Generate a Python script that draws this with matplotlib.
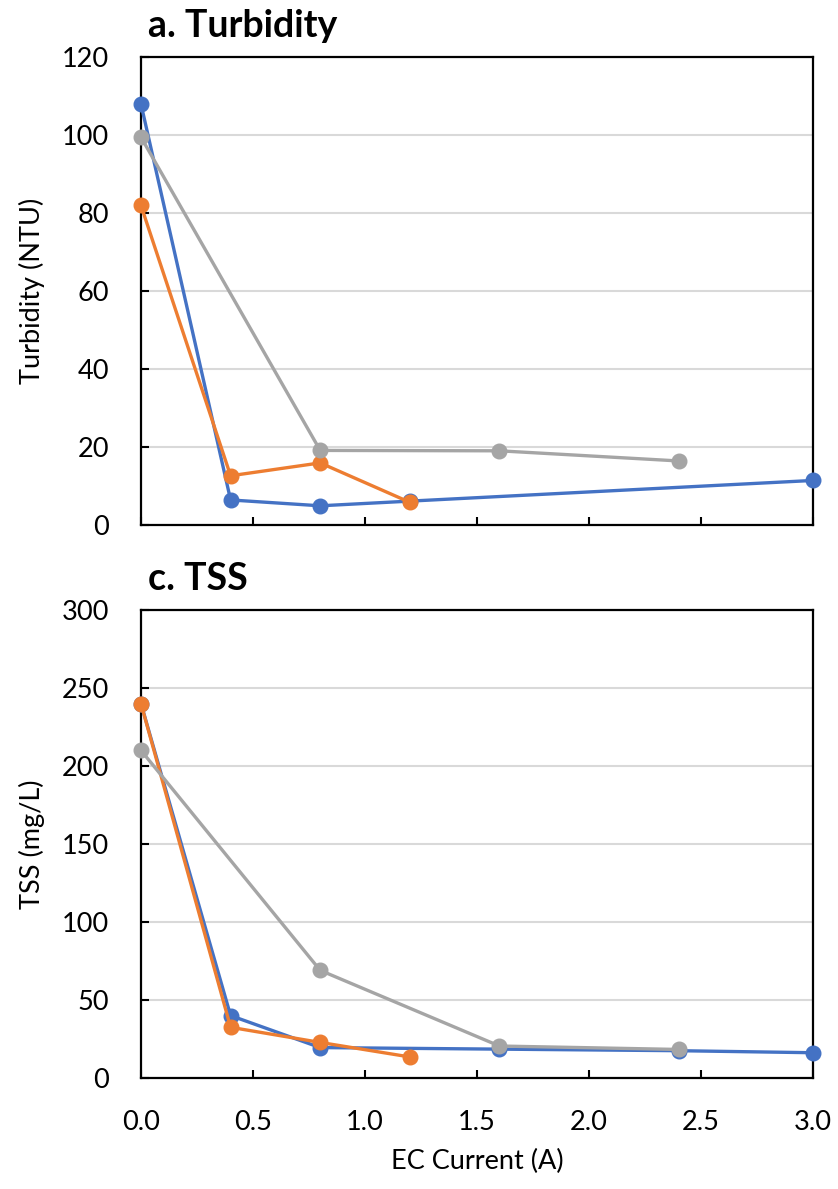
import matplotlib
matplotlib.use("Agg")
import matplotlib.pyplot as plt

# ---- data ----
turb_x_blue = [0.0, 0.4, 0.8, 1.2, 3.0]
turb_blue = [108.0, 6.5, 5.0, 6.2, 11.5]
turb_x_orange = [0.0, 0.4, 0.8, 1.2]
turb_orange = [82.0, 12.7, 16.0, 5.9]
turb_x_gray = [0.0, 0.8, 1.6, 2.4]
turb_gray = [99.5, 19.2, 19.1, 16.5]

tss_x_blue = [0.0, 0.4, 0.8, 1.6, 2.4, 3.0]
tss_blue = [240.0, 40.0, 19.5, 18.5, 17.5, 16.2]
tss_x_orange = [0.0, 0.4, 0.8, 1.2]
tss_orange = [240.0, 32.5, 22.8, 13.5]
tss_x_gray = [0.0, 0.8, 1.6, 2.4]
tss_gray = [210.0, 69.0, 20.5, 18.3]

x_ticks = [0.0, 0.5, 1.0, 1.5, 2.0, 2.5, 3.0]
x_ticklabels = ["0.0", "0.5", "1.0", "1.5", "2.0", "2.5", "3.0"]
turb_yticks = [0, 20, 40, 60, 80, 100, 120]
tss_yticks = [0, 50, 100, 150, 200, 250, 300]

titles = ["a. Turbidity", "c. TSS"]
ylabels = ["Turbidity (NTU)", "TSS (mg/L)"]
xlabel = "EC Current (A)"

BLUE = "#4472C4"
ORANGE = "#ED7D31"
GRAY = "#A5A5A5"

plt.rcParams['font.family'] = ['Lato', 'DejaVu Sans']

fig = plt.figure(figsize=(8.38, 11.89), dpi=100)
W, H = 838, 1189
left, right = 141 / W, 813 / W
ax1 = fig.add_axes([left, 1 - 525.3 / H, right - left, (525.3 - 57.3) / H])
ax2 = fig.add_axes([left, 1 - 1078 / H, right - left, (1078 - 610) / H])


def style(ax, yticks, ylabel, title, show_xlabels):
    ax.set_xlim(0, 3.0)
    ax.set_ylim(yticks[0], yticks[-1])
    ax.set_yticks(yticks)
    ax.set_xticks(x_ticks)
    ax.grid(axis='y', color='#D9D9D9', linewidth=1.5, zorder=0)
    ax.set_axisbelow(True)
    for s in ax.spines.values():
        s.set_linewidth(1.6)
        s.set_color('black')
    ax.tick_params(axis='both', direction='in', length=6, width=1.5,
                   labelsize=19.5, colors='black')
    ax.tick_params(axis='y', pad=23)
    ax.tick_params(axis='x', pad=23)
    if show_xlabels:
        ax.set_xticklabels(x_ticklabels)
    else:
        ax.set_xticklabels([])
    ax.set_ylabel(ylabel, fontsize=19.5, labelpad=12)
    ax.text(0.01, 1.0 + 31 / 468, title, transform=ax.transAxes,
            fontsize=27, fontweight='bold', ha='left', va='center')


def plot_series(ax, x, y, color):
    ax.plot(x, y, color=color, linewidth=2.4, marker='o', markersize=10.5,
            clip_on=False, zorder=3)


plot_series(ax1, turb_x_blue, turb_blue, BLUE)
plot_series(ax1, turb_x_orange, turb_orange, ORANGE)
plot_series(ax1, turb_x_gray, turb_gray, GRAY)

plot_series(ax2, tss_x_blue, tss_blue, BLUE)
plot_series(ax2, tss_x_orange, tss_orange, ORANGE)
plot_series(ax2, tss_x_gray, tss_gray, GRAY)

style(ax1, turb_yticks, ylabels[0], titles[0], False)
style(ax2, tss_yticks, ylabels[1], titles[1], True)
ax2.set_xlabel(xlabel, fontsize=19.5, labelpad=10)

fig.savefig("out.png", dpi=100)
